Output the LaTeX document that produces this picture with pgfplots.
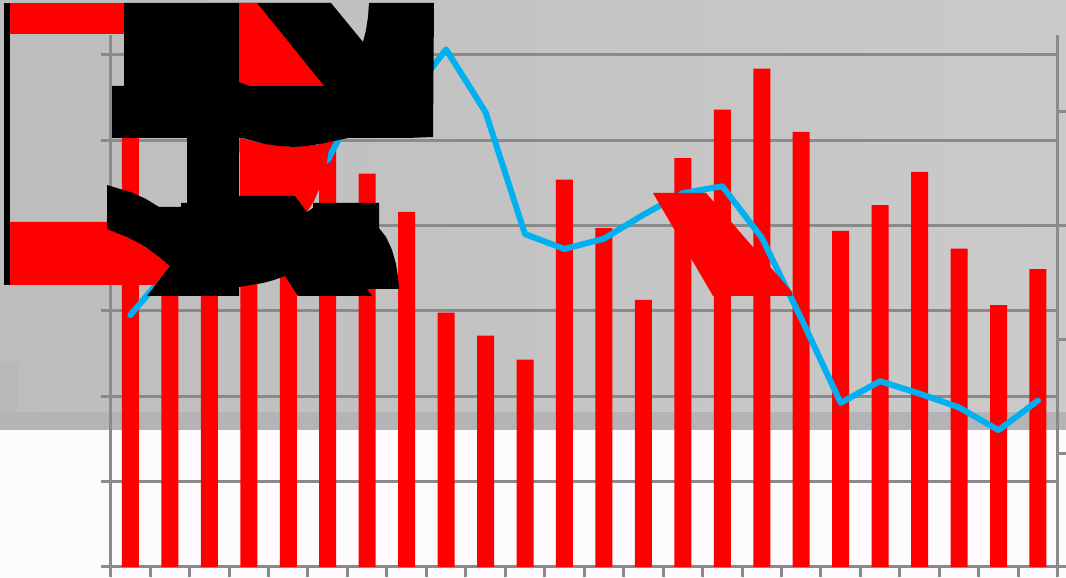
\documentclass[border=0pt]{standalone}
\usepackage{pgfplots}
\pgfplotsset{compat=1.18}
\definecolor{gcol}{RGB}{138,138,138}
\definecolor{blueline}{RGB}{0,176,240}
\definecolor{lowbg}{RGB}{254,251,254}
\definecolor{bandbg}{RGB}{180,180,182}
\definecolor{bgleft}{RGB}{188,189,188}
\definecolor{bgright}{RGB}{201,202,201}
\definecolor{bgpatch}{RGB}{184,185,184}

% bars, left axis
\pgfplotstableread{
x  y
1  5.10
2  3.95
3  4.24
4  3.90
5  4.00
6  5.03
7  4.61
8  4.16
9  2.98
10 2.71
11 2.43
12 4.54
13 3.97
14 3.13
15 4.79
16 5.36
17 5.84
18 5.10
19 3.94
20 4.24
21 4.63
22 3.73
23 3.07
24 3.49
}\bardata

% line, right axis
\pgfplotstableread{
x  y
1  2.21
2  2.62
3  3.25
4  3.82
5  3.48
6  3.57
7  4.23
8  4.10
9  4.54
10 3.99
11 2.92
12 2.79
13 2.88
14 3.09
15 3.28
16 3.34
17 2.89
18 2.18
19 1.44
20 1.63
21 1.52
22 1.40
23 1.20
24 1.46
}\linedata

\pgfplotsset{
    common/.style={
        scale only axis, width=947pt, height=532pt,
        at={(110.7pt,11pt)}, anchor=south west,
        xmin=0.5, xmax=24.5,
        xticklabel=\empty, yticklabel=\empty,
        tick style={draw=gcol, line width=3pt},
        major tick length=10pt
    },
    shape/.style={draw=none, no markers, forget plot}
}

\begin{document}
\begin{tikzpicture}[x=1pt, y=1pt]
\path[use as bounding box] (0,0) rectangle (1066,578);
\fill[lowbg] (0,0) rectangle (1066,148);
\shade[left color=bgleft, right color=bgright] (0,148) rectangle (1066,578);
\fill[bandbg] (0,148) rectangle (1066,166);
\fill[bgpatch] (0,166) rectangle (18,216);

\begin{axis}[common, axis y line=left, axis x line=bottom,
    axis line style={draw=gcol, line width=3pt, -},
    tick align=outside,
    ymin=0, ymax=6.234,
    xtick={0.5,1.5,...,24.5}, ytick={0,1,...,6},
    ymajorgrids, grid style={draw=gcol, line width=3pt}]
\addplot[ybar, bar width=17pt, fill=red, draw=none] table[x=x, y=y] {\bardata};
\end{axis}

\begin{axis}[common, axis y line=right, axis x line=none,
    axis line style={draw=gcol, line width=3pt, -},
    tick align=outside,
    ymin=0, ymax=4.667, ytick={0,1,...,4}]
\addplot[blueline, line width=6pt, line cap=round, line join=round, no markers] table[x=x, y=y] {\linedata};
\end{axis}

% oversized title glyphs lying over the chart, in picture pixels
\begin{axis}[scale only axis, width=1066pt, height=578pt, at={(0,0)}, anchor=south west,
    xmin=0, xmax=1066, ymin=0, ymax=578, y dir=reverse, hide axis, clip=true]
\addplot[shape, fill=red] coordinates {(10,3) (124,3) (124,34) (10,34)};
\addplot[shape, fill=red] coordinates {(10,222) (108,222) (108,229) (119,233) (130,238) (140,244) (150,250) (160,258) (170,266) (155,285) (10,285)};
\addplot[shape, fill=black] coordinates {(4,3) (10,3) (10,285) (4,285)};
\addplot[shape, fill=red] coordinates {(240,138) (260,143) (290,147) (315,145) (328,143) (328,155) (325,172) (320,187) (314,201) (307,212) (295,196) (240,196)};
\addplot[shape, fill=black] coordinates {(124,3) (331,3) (363,42) (366,30) (368,17) (369,3) (434,3) (433,137) (407,138) (348,138) (334,141) (320,144) (307,146) (293,147) (279,146) (265,144) (254,141) (243,138) (239,138) (239,196) (295,196) (307,212) (313,208) (313,203) (379,203) (379,228) (386,237) (392,250) (396,264) (398,277) (399,289) (367,289) (372,296) (298,296) (285,276) (274,280) (263,283) (251,285) (239,287) (239,296) (147,296) (170,266) (159,257) (147,248) (137,242) (127,237) (117,233) (107,229) (107,185) (120,189) (133,193) (146,199) (159,207) (181,207) (181,203) (187,203) (187,138) (112,138) (112,86) (124,86)};
\addplot[shape, fill=red] coordinates {(239,3) (257,3) (324,86) (250,86) (239,82)};
\addplot[shape, fill=red] coordinates {(653,193) (706,193) (792,292) (792,296) (713,296)};
\end{axis}
\end{tikzpicture}
\end{document}
